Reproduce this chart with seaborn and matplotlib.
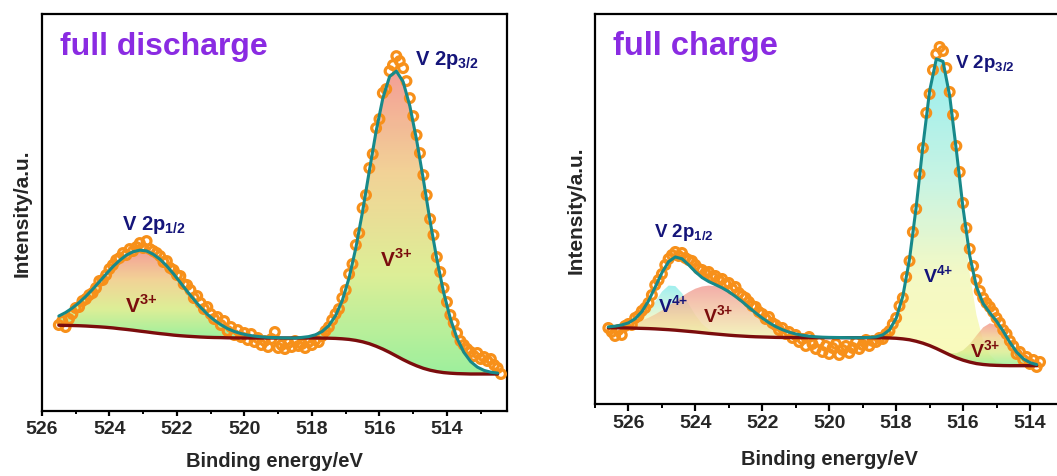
import numpy as np
import matplotlib
matplotlib.use("Agg")
import matplotlib.pyplot as plt
from matplotlib.colors import LinearSegmentedColormap
from matplotlib.ticker import FixedLocator
import seaborn as sns

# ---------------- full discharge (left panel) ----------------
# fitted curves on a 0.2 eV grid starting at 525.5 eV (heights in a.u.)
dis_fit_start = 525.5
dis_baseline = [
    85.8, 85.6, 85.5, 85.3, 85.0, 84.6, 84.2, 83.7, 83.1, 82.3,
    81.6, 80.8, 79.9, 79.1, 78.2, 77.4, 76.7, 75.9, 75.3, 74.8,
    74.4, 74.0, 73.7, 73.5, 73.4, 73.2, 73.1, 73.0, 73.0, 73.0,
    73.0, 73.0, 73.0, 73.0, 73.0, 73.0, 73.0, 73.0, 73.0, 72.9,
    72.8, 72.6, 72.2, 71.6, 70.6, 69.2, 67.3, 64.8, 61.9, 58.6,
    55.0, 51.4, 48.1, 45.2, 42.7, 40.8, 39.4, 38.4, 37.8, 37.4,
    37.2, 37.0, 37.0, 37.0, 37.0, 37.0,
]
dis_v3_2p12 = [
    9.2, 12.9, 17.5, 23.1, 29.7, 37.1, 45.0, 53.2, 61.2, 68.3,
    74.3, 78.5, 81.0, 81.0, 78.5, 74.3, 68.3, 61.2, 53.2, 45.0,
    37.1, 29.7, 23.1, 17.5, 12.9, 9.2, 6.4, 4.4, 2.9, 1.9,
    1.2, 0.7, 0.4, 0.2, 0.1,
] + [0.0] * 31
dis_v3_2p32 = [0.0] * 36 + [
    0.6, 1.4, 3.2, 6.6, 12.6, 22.8, 38.5, 61.6, 92.6, 130.5,
    173.0, 215.0, 251.0, 276.0, 285.0, 278.0, 257.0, 226.0, 189.0, 149.0,
    112.5, 80.4, 54.6, 35.2, 21.5, 12.5, 6.9, 3.6, 1.8, 0.9,
]
# measured points on a 0.1 eV grid starting at 525.5 eV
dis_raw_start = 525.5
dis_raw = [
    86, 90, 84, 92, 97, 103, 104, 110, 112, 116,
    118, 123, 130, 131, 136, 142, 146, 151, 153, 158,
    156, 162, 160, 164, 168, 163, 170, 162, 160, 158,
    155, 149, 150, 143, 141, 136, 135, 127, 126, 121,
    113, 115, 108, 102, 104, 97, 92, 94, 86, 90,
    80, 84, 76, 81, 74, 78, 71, 77, 69, 73,
    66, 70, 64, 72, 79, 63, 66, 62, 68, 64,
    70, 65, 67, 63, 69, 66, 71, 69, 75, 80,
    84, 91, 97, 102, 113, 121, 137, 147, 166, 178,
    203, 216, 243, 257, 283, 292, 318, 322, 340, 346,
    355, 350, 343, 330, 313, 295, 276, 258, 236, 216,
    192, 176, 154, 139, 123, 109, 96, 88, 78, 70,
    66, 62, 59, 55, 58, 52, 54, 50, 52, 46,
    43, 37,
]

# ---------------- full charge (right panel) ----------------
chg_fit_start = 526.6
chg_baseline = [
    76.2, 76.2, 76.1, 76.0, 75.8, 75.6, 75.4, 75.1, 74.7, 74.3,
    73.8, 73.2, 72.6, 72.0, 71.3, 70.6, 70.0, 69.4, 68.8, 68.3,
    67.9, 67.5, 67.2, 67.0, 66.8, 66.6, 66.5, 66.4, 66.4, 66.3,
    66.3, 66.3, 66.3, 66.3, 66.3, 66.3, 66.3, 66.3, 66.3, 66.3,
    66.2, 66.2, 66.0, 65.7, 65.1, 64.2, 62.7, 60.8, 58.4, 55.5,
    52.3, 49.1, 46.2, 43.8, 41.9, 40.4, 39.5, 38.9, 38.6, 38.4,
    38.3, 38.3, 38.3, 38.3, 38.3,
]
chg_v4_2p12 = [
    0.0, 0.1, 0.5, 1.5, 4.0, 8.9, 16.9, 27.3, 37.6, 44.1,
    44.1, 37.6, 27.3, 16.9, 8.9, 4.0, 1.5, 0.5, 0.1,
] + [0.0] * 46
chg_v3_2p12 = [
    0.9, 1.5, 2.4, 3.6, 5.4, 7.8, 10.8, 14.5, 18.9, 23.9,
    29.1, 34.4, 39.2, 43.3, 46.2, 47.8, 47.8, 46.2, 43.3, 39.2,
    34.4, 29.1, 23.9, 18.9, 14.5, 10.8, 7.8, 5.4, 3.6, 2.4,
    1.5, 0.9, 0.5, 0.3, 0.2, 0.1,
] + [0.0] * 29
chg_v4_2p32 = [0.0] * 39 + [
    0.3, 0.9, 2.9, 8.1, 19.9, 42.7, 80.8, 134.6, 197.3, 254.6,
    289.3, 289.7, 257.2, 202.8, 142.0, 88.2, 48.8, 23.8, 10.4, 4.0,
    1.4, 0.4,
] + [0.0] * 4
chg_v3_2p32 = [0.0] * 49 + [
    0.2, 0.6, 1.8, 4.6, 9.9, 18.0, 28.0, 37.1, 41.8, 40.2,
    32.9, 22.9, 13.6, 6.9, 3.0, 1.1,
]
chg_raw_start = 526.6
chg_raw = [
    76, 72, 68, 74, 69, 78, 80, 79, 86, 88,
    93, 96, 101, 109, 119, 124, 130, 139, 145, 149,
    152, 148, 151, 146, 144, 143, 139, 135, 134, 131,
    132, 127, 128, 124, 125, 120, 121, 115, 117, 111,
    108, 106, 102, 98, 97, 92, 90, 85, 87, 81,
    79, 74, 76, 70, 72, 66, 69, 62, 65, 58,
    67, 60, 55, 62, 52, 58, 50, 56, 60, 49,
    54, 58, 51, 56, 62, 55, 59, 64, 58, 63,
    62, 66, 65, 70, 73, 80, 86, 98, 106, 127,
    143, 172, 195, 230, 256, 291, 310, 334, 350, 357,
    353, 336, 312, 289, 258, 232, 201, 176, 155, 138,
    124, 113, 106, 101, 97, 92, 86, 81, 74, 70,
    63, 58, 50, 52, 44, 47, 40, 44, 37, 42,
]

x_ticks = [526, 524, 522, 520, 518, 516, 514]

ORANGE = "#f7901a"
TEAL = "#17898a"
DARKRED = "#7b0d0d"
NAVY = "#15157a"
VIOLET = "#8a2be2"

red_green = LinearSegmentedColormap.from_list(
    "rg", ["#98f098", "#dcee92", "#f2d090", "#f49a92"])
cyan_yellow = LinearSegmentedColormap.from_list(
    "cy", [(0.0, "#fbfbb8"), (0.3, "#f4f9c2"), (0.6, "#c6f4e2"), (1.0, "#94eeee")])
red_yellow = LinearSegmentedColormap.from_list(
    "ry", ["#eef2a8", "#f2c29a", "#f0928c"])

sns.set_theme(style="ticks")
plt.rcParams["font.family"] = ["Liberation Sans", "DejaVu Sans"]
plt.rcParams["font.weight"] = "bold"
plt.rcParams["mathtext.fontset"] = "custom"
plt.rcParams["mathtext.rm"] = "Liberation Sans"
plt.rcParams["mathtext.bf"] = "Liberation Sans:bold"


def energy_grid(start, step, n):
    return np.round(start - step * np.arange(n), 2)


def gradient_fill(ax, x, lower, upper, cmap, alpha):
    poly = ax.fill_between(x, lower, upper, facecolor="none", edgecolor="none")
    mask = (upper - lower) > 0.5
    bottom, top = lower[mask].min(), upper[mask].max()
    grad = np.linspace(0, 1, 256).reshape(-1, 1)
    im = ax.imshow(grad, cmap=cmap, aspect="auto", origin="lower", alpha=alpha,
                   extent=[x.min(), x.max(), bottom, top], zorder=1)
    im.set_clip_path(poly.get_paths()[0], ax.transData)


def draw_panel(ax, fit_start, baseline, comps, raw_start, raw, xlim, ylim,
               tick_len):
    base = np.array(baseline)
    fx = energy_grid(fit_start, 0.2, len(base))
    env = base.copy()
    for values, cmap, alpha in comps:
        c = np.array(values)
        gradient_fill(ax, fx, base, base + c, cmap, alpha)
        env = env + c
    rx = energy_grid(raw_start, 0.1, len(raw))
    sns.scatterplot(x=rx, y=raw, ax=ax, s=40, facecolor="none",
                    edgecolor=ORANGE, linewidth=2.3, zorder=3)
    sns.lineplot(x=fx, y=base, ax=ax, color=DARKRED, linewidth=2.4,
                 estimator=None, sort=False, zorder=4)
    sns.lineplot(x=fx, y=env, ax=ax, color=TEAL, linewidth=2.2,
                 estimator=None, sort=False, zorder=5)

    ax.set_xlim(*xlim)
    ax.set_ylim(*ylim)
    ax.set_yticks([])
    ax.xaxis.set_major_locator(FixedLocator(x_ticks))
    ax.xaxis.set_minor_locator(FixedLocator([t - 1 for t in x_ticks] + [527]))
    ax.set_xticklabels([str(t) for t in x_ticks], fontsize=14, fontweight="bold")
    ax.tick_params(axis="x", which="major", length=tick_len, width=1.6, pad=2.5,
                   color="black")
    ax.tick_params(axis="x", which="minor", length=tick_len * 0.55, width=1.4,
                   color="black")
    for sp in ax.spines.values():
        sp.set_visible(True)
        sp.set_linewidth(1.6)
        sp.set_color("black")
    ax.set_xlabel("Binding energy/eV", fontsize=14.5, fontweight="bold")
    ax.set_ylabel("Intensity/a.u.", fontsize=15, fontweight="bold")


fig = plt.figure(figsize=(10.57, 4.77), dpi=100)
ax1 = fig.add_axes([0.0397, 0.1363, 0.440, 0.832])
ax2 = fig.add_axes([0.5629, 0.151, 0.4432, 0.8176])

draw_panel(ax1, dis_fit_start, dis_baseline,
           [(dis_v3_2p12, red_green, 0.95), (dis_v3_2p32, red_green, 0.95)],
           dis_raw_start, dis_raw, (526, 512.22), (0, 397), 3.8)
draw_panel(ax2, chg_fit_start, chg_baseline,
           [(chg_v4_2p32, cyan_yellow, 0.95), (chg_v4_2p12, cyan_yellow, 0.9),
            (chg_v3_2p12, red_yellow, 0.75), (chg_v3_2p32, red_green, 0.85)],
           chg_raw_start, chg_raw, (527, 513), (0, 390), 5.0)

ax1.xaxis.set_label_coords(0.5, -0.10)
ax1.yaxis.set_label_coords(-0.022, 0.5)
ax2.xaxis.set_label_coords(0.5, -0.115)
ax2.yaxis.set_label_coords(-0.021, 0.5)

# panel titles
ax1.text(0.039, 0.899, "full discharge", transform=ax1.transAxes, color=VIOLET,
         fontsize=23, fontweight="bold", va="baseline")
ax2.text(0.038, 0.897, "full charge", transform=ax2.transAxes, color=VIOLET,
         fontsize=23.5, fontweight="bold", va="baseline")

# peak labels
lab = dict(fontweight="bold", va="baseline", ha="left", zorder=6)
ax1.text(514.95, 347, r"V 2p$_{\mathbf{3/2}}$", color=NAVY, fontsize=14.5, **lab)
ax1.text(523.63, 182, r"V 2p$_{\mathbf{1/2}}$", color=NAVY, fontsize=14.5, **lab)
ax1.text(523.54, 99, r"V$^{\mathbf{3{+}}}$", color=DARKRED, fontsize=15, **lab)
ax1.text(515.99, 145, r"V$^{\mathbf{3{+}}}$", color=DARKRED, fontsize=15, **lab)

ax2.text(516.24, 337, r"V 2p$_{\mathbf{3/2}}$", color=NAVY, fontsize=13.5, **lab)
ax2.text(525.25, 168, r"V 2p$_{\mathbf{1/2}}$", color=NAVY, fontsize=13.5, **lab)
ax2.text(525.13, 92, r"V$^{\mathbf{4{+}}}$", color=NAVY, fontsize=14, **lab)
ax2.text(523.76, 82, r"V$^{\mathbf{3{+}}}$", color=DARKRED, fontsize=14, **lab)
ax2.text(517.19, 122, r"V$^{\mathbf{4{+}}}$", color=NAVY, fontsize=14, **lab)
ax2.text(515.79, 47, r"V$^{\mathbf{3{+}}}$", color=DARKRED, fontsize=14, **lab)

fig.savefig("out.png", dpi=100)
